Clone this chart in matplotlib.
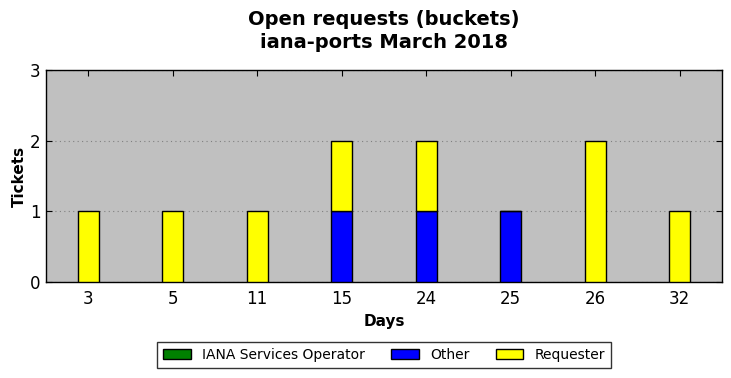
import matplotlib
matplotlib.use("Agg")
import matplotlib.pyplot as plt
import numpy as np

days = ["3", "5", "11", "15", "24", "25", "26", "32"]
iana = [0, 0, 0, 0, 0, 0, 0, 0]
other = [0, 0, 0, 1, 1, 1, 0, 0]
requester = [1, 1, 1, 1, 1, 0, 2, 1]

fig = plt.figure(figsize=(7.31, 3.78), dpi=100)
ax = fig.add_axes([46/731, 1-282/378, (722-46)/731, (282-70)/378])
ax.set_facecolor("#c0c0c0")

x = np.arange(len(days))
w = 0.25
iana_a = np.array(iana)
other_a = np.array(other)
req_a = np.array(requester)
ax.bar(x, iana_a, w, color="green", edgecolor="black", linewidth=1, label="IANA Services Operator", zorder=3)
ax.bar(x, other_a, w, bottom=iana_a, color="blue", edgecolor="black", linewidth=1, label="Other", zorder=3)
ax.bar(x, req_a, w, bottom=iana_a+other_a, color="yellow", edgecolor="black", linewidth=1, label="Requester", zorder=3)

ax.set_xlim(-0.5, len(days)-0.5)
ax.set_ylim(0, 3)
ax.set_yticks([0, 1, 2, 3])
ax.set_xticks(x)
ax.set_xticklabels(days)
ax.tick_params(direction="in", top=True, right=True, labelsize=12, length=4, pad=6)
ax.tick_params(axis="y", pad=4)
ax.yaxis.grid(True, linestyle=(0, (1, 3)), color="#808080", linewidth=0.8, zorder=0)
for s in ax.spines.values():
    s.set_linewidth(1)

ax.set_xlabel("Days", fontsize=11, fontweight="bold", labelpad=4)
ax.set_ylabel("Tickets", fontsize=11, fontweight="bold", labelpad=2)
fig.suptitle("Open requests (buckets)\niana-ports March 2018", fontsize=14, fontweight="bold",
             x=384/731, y=0.974, linespacing=1.25)

leg = fig.legend(loc="center", bbox_to_anchor=(384/731, 1-355/378), ncol=3, fontsize=10,
                 frameon=True, fancybox=False, edgecolor="black", handlelength=2.0, handleheight=0.7,
                 columnspacing=1.9, borderpad=0.4)
leg.get_frame().set_linewidth(1)

fig.savefig("out.png", dpi=100)
